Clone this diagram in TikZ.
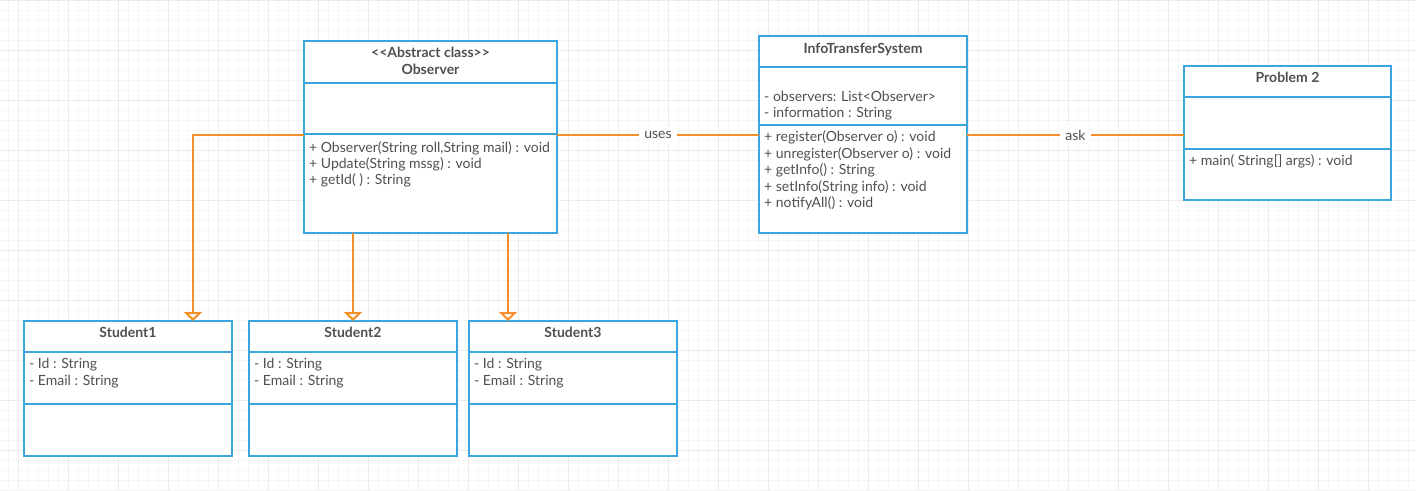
\documentclass[tikz,border=0pt]{standalone}
\usepackage{fontspec}
\setmainfont{Lato}
\usetikzlibrary{arrows.meta,calc}

\definecolor{umlblue}{RGB}{59,165,224}
\definecolor{umlorange}{RGB}{245,143,41}
\definecolor{umltext}{RGB}{80,80,80}
\definecolor{gridminor}{RGB}{245,245,245}
\definecolor{gridmajor}{RGB}{235,235,235}

\tikzset{
  classbox/.style={draw=umlblue, line width=2.2pt, fill=white, inner sep=0pt, outer sep=0pt},
  classline/.style={draw=umlblue, line width=2.2pt},
  txt/.style={text=umltext, inner sep=0pt, font=\fontsize{14}{16.4}\selectfont},
  ttl/.style={txt, font=\fontsize{14}{16.4}\selectfont\bfseries},
  conn/.style={draw=umlorange, line width=2pt},
  inherit/.style={conn, -{Triangle[open, fill=white, length=9pt, width=18pt]}},
  lbl/.style={fill=white, text=umltext, inner sep=5pt, font=\fontsize{14}{16.4}\selectfont},
}

% class box: name, x, y, width, height, first divider, second divider
\newcommand\umlclass[7]{%
  \node[classbox, minimum width=#4pt, minimum height=#5pt, anchor=north west] (#1) at (#2,#3) {};
  \draw[classline] ([yshift=-#6pt]#1.north west) -- ([yshift=-#6pt]#1.north east);
  \draw[classline] ([yshift=-#7pt]#1.north west) -- ([yshift=-#7pt]#1.north east);
}

\begin{document}
\begin{tikzpicture}[x=1pt, y=-1pt]
\useasboundingbox (0,0) rectangle (1416,490);
\fill[white] (0,0) rectangle (1416,490);

% background grid
\foreach \gx in {8,18,...,1416} \draw[gridminor, line width=1pt] (\gx,0) -- (\gx,490);
\foreach \gy in {0,10,...,490} \draw[gridminor, line width=1pt] (0,\gy) -- (1416,\gy);
\foreach \gx in {18,68,...,1416} \draw[gridmajor, line width=1pt] (\gx,0) -- (\gx,490);
\foreach \gy in {0,50,...,490} \draw[gridmajor, line width=1pt] (0,\gy) -- (1416,\gy);

% class boxes
\umlclass{obs}{304}{41}{253}{192}{42}{93}
\umlclass{its}{759}{36}{208}{197}{31}{89}
\umlclass{ptwo}{1184}{66}{207}{134}{31}{83}
\umlclass{sone}{24}{321}{208}{135}{31}{83}
\umlclass{stwo}{249}{321}{208}{135}{31}{83}
\umlclass{sthree}{469}{321}{208}{135}{31}{83}

% Observer
\node[ttl, anchor=base] (obs-t1) at ($(obs.north)+(0,16.7)$) {<\kern0pt<Abstract class>\kern0pt>};
\node[ttl, anchor=base] (obs-t2) at ($(obs.north)+(0,33.3)$) {Observer};
\foreach \t [count=\i] in {{+ Observer(String roll,String mail) : void},{+ Update(String mssg) : void},{+ getId( ) : String}}
  \node[txt, anchor=base west] (obs-m\i) at ($(obs.north west)+(5,{111+16.4*(\i-1)})$) {\t};

% InfoTransferSystem
\node[ttl, anchor=base] (its-t) at ($(its.north)+(0,17.3)$) {InfoTransferSystem};
\foreach \t [count=\i] in {{- observers: List<Observer>},{- information : String}}
  \node[txt, anchor=base west] (its-a\i) at ($(its.north west)+(5,{65+16.4*(\i-1)})$) {\t};
\foreach \t [count=\i] in {{+ register(Observer o) : void},{+ unregister(Observer o) : void},{+ getInfo() : String},{+ setInfo(String info) : void},{+ notifyAll() : void}}
  \node[txt, anchor=base west] (its-m\i) at ($(its.north west)+(5,{105.7+16.5*(\i-1)})$) {\t};

% Problem 2
\node[ttl, anchor=base] (ptwo-t) at ($(ptwo.north)+(0,16.7)$) {Problem 2};
\node[txt, anchor=base west] (ptwo-m1) at ($(ptwo.north west)+(5,99)$) {+ main( String[] args) : void};

% Students
\foreach \s/\n in {sone/Student1,stwo/Student2,sthree/Student3}{
  \node[ttl, anchor=base] (\s-t) at ($(\s.north)+(0,16.5)$) {\n};
  \node[txt, anchor=base west] (\s-a1) at ($(\s.north west)+(5,47.5)$) {- Id : String};
  \node[txt, anchor=base west] (\s-a2) at ($(\s.north west)+(5,64)$) {- Email : String};
}

% associations
\draw[conn] ([yshift=-94pt]obs.north east) coordinate (u1) -- (u1 -| its.west)
  node[midway, lbl] (uses) {uses};
\draw[conn] ([yshift=-99pt]its.north east) coordinate (a1) -- (a1 -| ptwo.west)
  node[midway, lbl] (ask) {ask};

% generalisations
\draw[inherit] ([yshift=-94pt]obs.north west) -| ($(sone.north west)+(169,0)$);
\draw[inherit] (stwo.north |- obs.south) -- (stwo.north);
\draw[inherit] ($(obs.south west)+(204,0)$) coordinate (g3) -- (g3 |- sthree.north);
\end{tikzpicture}
\end{document}
